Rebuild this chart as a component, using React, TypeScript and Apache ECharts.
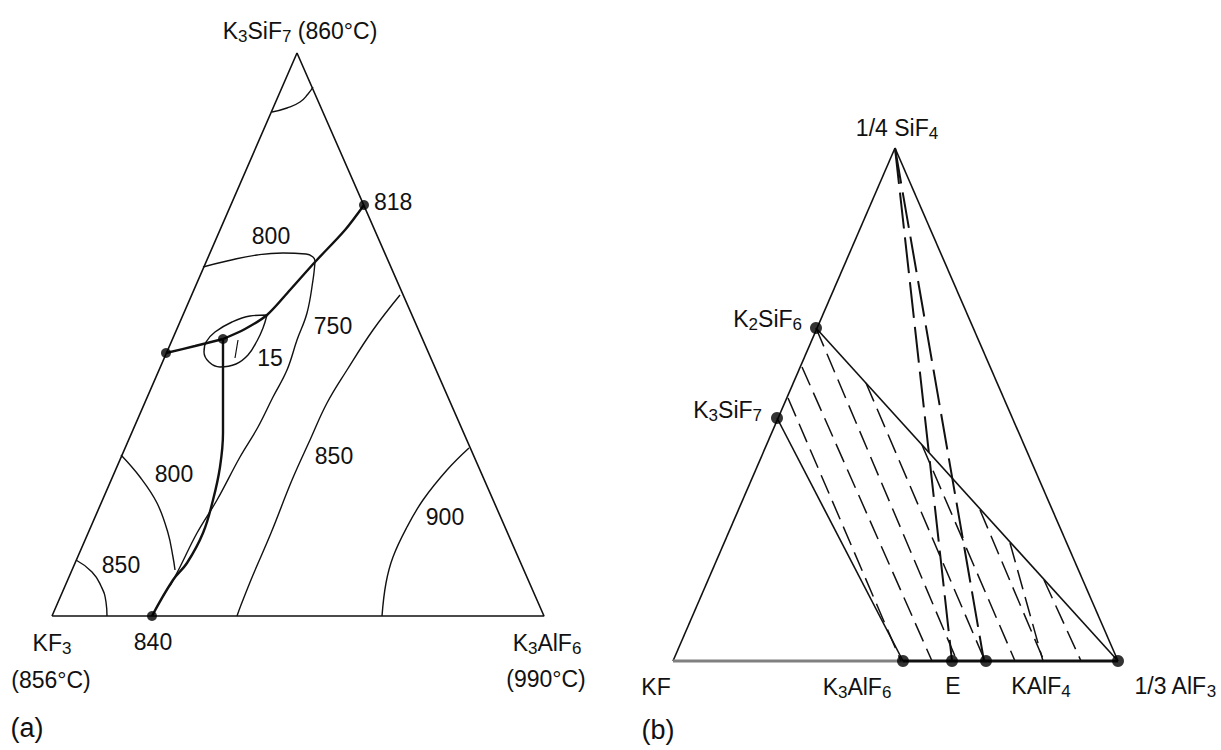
import React, { useEffect, useRef } from "react";
import * as echarts from "echarts";

// ---------- Left diagram (a): KF3 – K3SiF7 – K3AlF6 ----------
const leftTriangle = [[52, 616], [544, 616], [297, 53], [52, 616]];
const iso860Top = [[272, 112], [287, 108], [300, 102], [308, 94], [313, 87]];
const iso800Upper = [[203, 267], [227, 261], [257, 255], [283, 253], [306, 254], [313, 257], [315, 261]];
const iso750 = [[315, 262], [313, 280], [307, 313], [297, 340], [287, 370], [273, 397], [258, 427], [240, 457], [217, 500], [197, 533], [180, 567], [170, 586]];
const iso800Lower = [[121, 455], [140, 477], [157, 503], [168, 533], [173, 557], [175, 570]];
const iso850Lower = [[76, 560], [92, 572], [101, 586], [106, 602], [107, 616]];
const iso850Mid = [[400, 295], [373, 330], [347, 370], [327, 403], [310, 440], [292, 480], [271, 533], [253, 575], [241, 605], [237, 616]];
const iso900 = [[469, 448], [447, 470], [423, 500], [407, 527], [393, 557], [386, 583], [382, 616]];
const boundary818 = [[364, 205], [345, 230], [315, 262], [290, 290], [267, 315], [245, 329], [223, 339]];
const boundaryLeft = [[166, 353], [195, 346], [223, 339]];
const boundary840 = [[223, 339], [223, 400], [223, 433], [220, 467], [213, 500], [203, 533], [187, 563], [173, 580], [152, 616]];
const lens15 = [[267, 315], [250, 316], [232, 322], [215, 332], [206, 342], [204, 352], [209, 362], [220, 367], [236, 364], [248, 355], [257, 341], [263, 328], [267, 315]];
const lensTick = [[238, 340], [235, 358]];
const leftDots = [[364, 205], [166, 353], [223, 339], [152, 616]];

// ---------- Right diagram (b): KF – 1/4 SiF4 – 1/3 AlF3 ----------
const rightLeftEdge = [[673, 661], [895, 148]];
const rightRightEdge = [[895, 148], [1118, 661]];
const baseGray = [[673, 661], [903, 661]];
const baseBlack = [[903, 661], [1118, 661]];
const solidTie1 = [[777, 418], [903, 661]];
const solidTie2 = [[816, 328], [1118, 661]];
const tieLines = [
  [[788, 398], [901, 661]],
  [[802, 367], [932, 661]],
  [[816, 328], [957, 661]],
  [[866, 383], [985, 661]],
  [[922, 445], [1015, 661]],
  [[980, 510], [1044, 661]],
  [[1010, 543], [1043, 661]],
  [[1044, 580], [1081, 661]],
];
const apexLines = [
  [[895, 148], [952, 661]],
  [[895, 148], [984, 661]],
];
const rightDots = [[816, 328], [777, 418], [903, 661], [952, 661], [986, 661], [1118, 661]];

// ---------- Labels ----------
const labelTexts = {
  leftTop: "K_3SiF_7 (860°C)",
  leftBL: "KF_3",
  leftBLT: "(856°C)",
  leftBR: "K_3AlF_6",
  leftBRT: "(990°C)",
  rightTop: "1/4 SiF_4",
  k2: "K_2SiF_6",
  k3: "K_3SiF_7",
  kf: "KF",
  k3al: "K_3AlF_6",
  e: "E",
  kalf4: "KAlF_4",
  alf3: "1/3 AlF_3",
};
const isoLabels = ["818", "800", "750", "15", "800", "850", "850", "900", "840"];

const FONT = '"Liberation Sans", Arial, Helvetica, sans-serif';
const INK = "#111";

function toRich(s: string) {
  let out = "";
  let buf = "";
  for (let i = 0; i < s.length; i++) {
    if (s[i] === "_" && i + 1 < s.length) {
      if (buf) out += "{n|" + buf + "}";
      buf = "";
      out += "{s|" + s[i + 1] + "}";
      i++;
    } else buf += s[i];
  }
  if (buf) out += "{n|" + buf + "}";
  return out;
}

const rich = {
  n: { fontSize: 23, fontFamily: FONT, fill: INK, lineHeight: 28 },
  s: { fontSize: 17, fontFamily: FONT, fill: INK, lineHeight: 10, verticalAlign: "bottom" },
};

function txt(str: string, x: number, y: number, align = "center", size = 23) {
  const r = size === 23 ? rich : { n: { ...rich.n, fontSize: size, lineHeight: size + 6 }, s: rich.s };
  return {
    type: "text",
    x,
    y,
    silent: true,
    style: { text: toRich(str), rich: r, align, verticalAlign: "middle", fill: INK },
  };
}

function line(data: number[][], width = 1.5, smooth: number | boolean = false, dash: any = "solid", color = INK) {
  return {
    type: "line",
    data,
    symbol: "none",
    smooth,
    silent: true,
    lineStyle: { color, width, type: dash, cap: "butt" },
    emphasis: { disabled: true },
    z: 2,
  };
}

export default function App() {
  const ref = useRef<HTMLDivElement>(null);
  useEffect(() => {
    if (!ref.current) return;
    const chart = echarts.init(ref.current, undefined, { renderer: "svg" });
    const series: any[] = [
      line(leftTriangle, 1.6),
      line(iso860Top, 1.4, 0.5),
      line(iso800Upper, 1.4, 0.5),
      line(iso750, 1.4, 0.4),
      line(iso800Lower, 1.4, 0.4),
      line(iso850Lower, 1.4, 0.5),
      line(iso850Mid, 1.4, 0.4),
      line(iso900, 1.4, 0.4),
      line(boundary818, 2.4, 0.3),
      line(boundaryLeft, 2.4, 0.3),
      line(boundary840, 2.4, 0.4),
      line(lens15, 1.4, 0.4),
      line(lensTick, 1.2),
      line(rightLeftEdge, 1.6),
      line(rightRightEdge, 1.6),
      line(baseGray, 3, false, "solid", "#808080"),
      line(baseBlack, 3.2),
      line(solidTie1, 1.6),
      line(solidTie2, 1.6),
      ...tieLines.map((d) => line(d, 1.5, false, [20, 8])),
      ...apexLines.map((d) => line(d, 2, false, [36, 9])),
      {
        type: "scatter",
        data: [...leftDots],
        symbolSize: 10,
        itemStyle: { color: "#000" },
        silent: true,
        z: 5,
      },
      {
        type: "scatter",
        data: [...rightDots],
        symbolSize: 12,
        itemStyle: { color: "#000" },
        silent: true,
        z: 5,
      },
    ];
    const graphic: any[] = [
      txt(labelTexts.leftTop, 300, 31),
      txt(isoLabels[0], 374, 202, "left"),
      txt(isoLabels[1], 271, 236),
      txt(isoLabels[2], 333, 326),
      txt(isoLabels[3], 270, 358),
      txt(isoLabels[4], 174, 474),
      txt(isoLabels[5], 121, 565),
      txt(isoLabels[6], 334, 456),
      txt(isoLabels[7], 445, 517),
      txt(isoLabels[8], 153, 642),
      txt(labelTexts.leftBL, 52, 643),
      txt(labelTexts.leftBLT, 51, 680),
      txt(labelTexts.leftBR, 547, 643),
      txt(labelTexts.leftBRT, 546, 679),
      txt("(a)", 27, 728, "center", 27),
      txt(labelTexts.rightTop, 897, 128),
      txt(labelTexts.k2, 802, 319, "right"),
      txt(labelTexts.k3, 762, 410, "right"),
      txt(labelTexts.kf, 656, 687),
      txt(labelTexts.k3al, 857, 687),
      txt(labelTexts.e, 953, 686),
      txt(labelTexts.kalf4, 1041, 686),
      txt(labelTexts.alf3, 1175, 686),
      txt("(b)", 658, 730, "center", 27),
    ];
    chart.setOption({
      animation: false,
      backgroundColor: "#ffffff",
      grid: { left: 0, top: 0, right: 0, bottom: 0 },
      xAxis: { type: "value", min: 0, max: 1221, show: false },
      yAxis: { type: "value", min: 0, max: 750, inverse: true, show: false },
      series,
      graphic,
    });
    return () => chart.dispose();
  }, []);
  return (
    <div
      ref={ref}
      style={{ position: "fixed", left: 0, top: 0, width: 1221, height: 750, background: "#fff" }}
    />
  );
}
